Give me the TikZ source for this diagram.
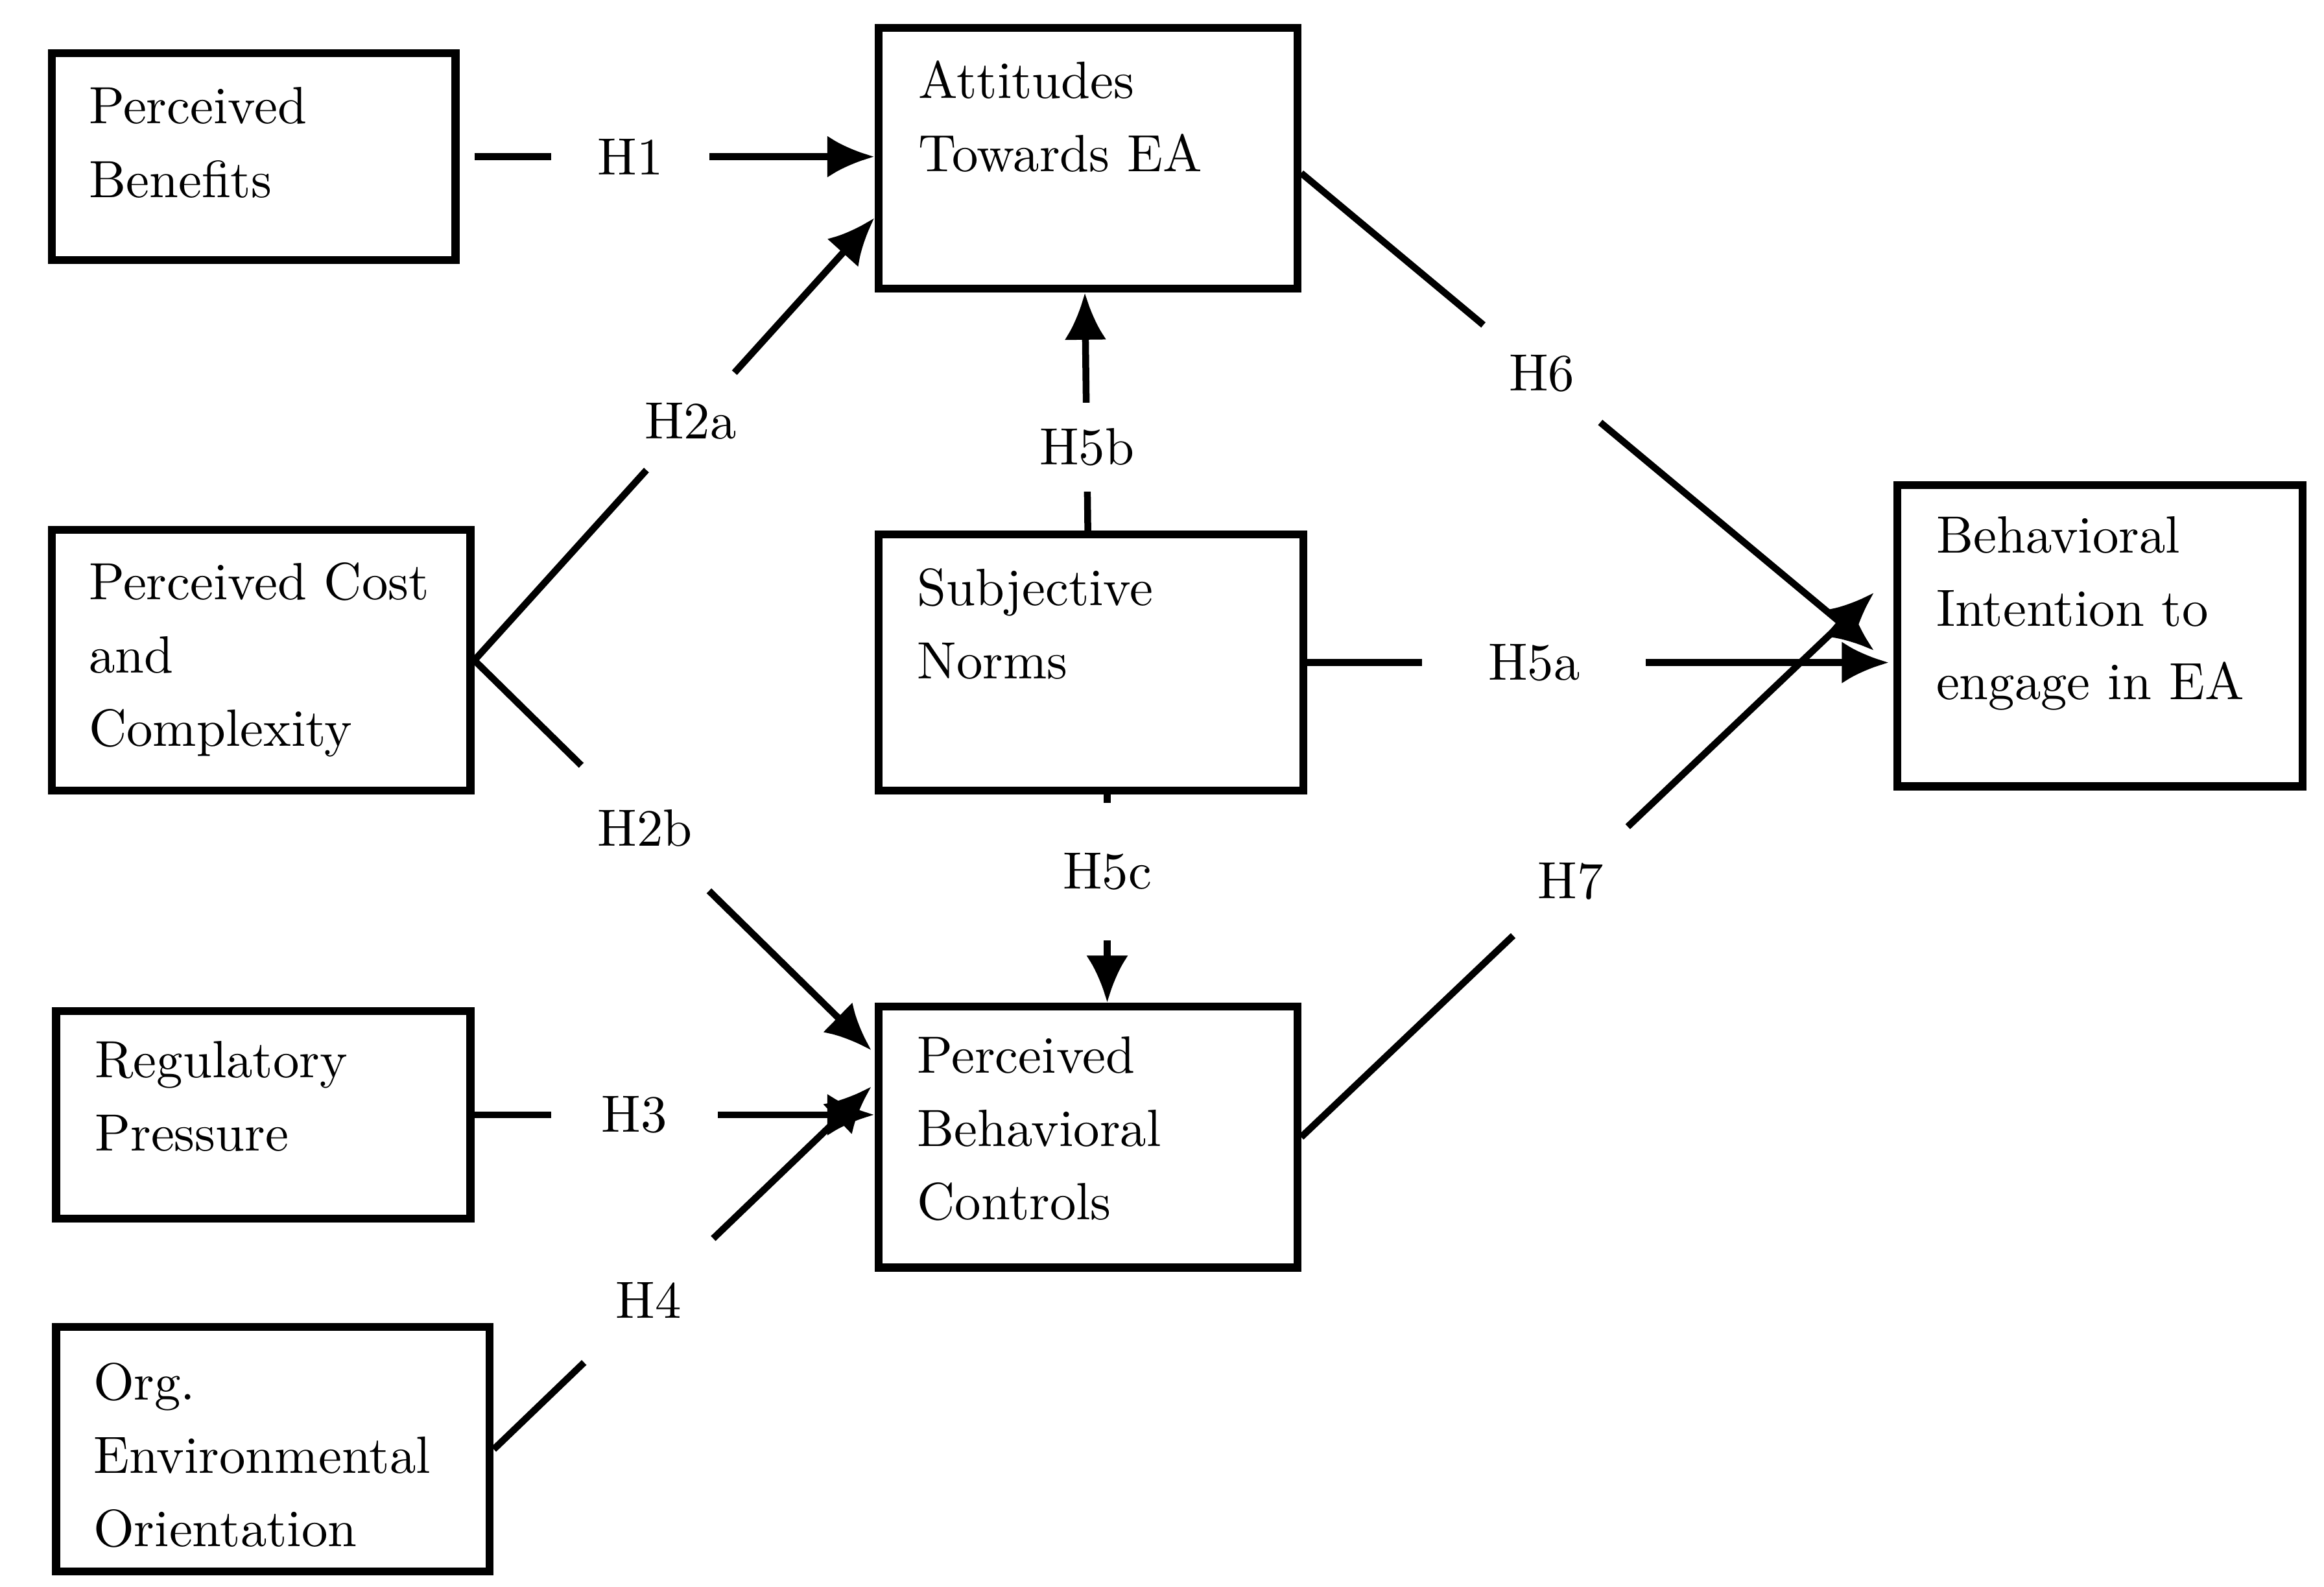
\documentclass[tikz,border=0pt]{standalone}
\usetikzlibrary{arrows.meta}
\begin{document}
\begin{tikzpicture}[x=0.01cm,y=-0.01cm,
  box/.style={draw,line width=1.5pt,anchor=north west,inner sep=0pt},
  txt/.style={anchor=north west,align=left,inner sep=0pt,font=\fontsize{10}{14}\selectfont},
  con/.style={line width=1.3pt},
  arr/.style={line width=1.3pt,-{Latex[length=9pt,width=8pt]}},
  lab/.style={fill=white,inner sep=0pt,font=\fontsize{10}{12}\selectfont}]
\useasboundingbox (0,0) rectangle (1560,1065);
\node[box,minimum width=271\pgflinewidth*0+2.71cm,minimum height=1.39cm] (pb) at (32,33) {};
\node[box,minimum width=2.81cm,minimum height=1.75cm] (att) at (587,16) {};
\node[box,minimum width=2.81cm,minimum height=1.75cm] (pcc) at (32,353) {};
\node[box,minimum width=2.85cm,minimum height=1.72cm] (sn) at (587,356) {};
\node[box,minimum width=2.72cm,minimum height=2.02cm] (bi) at (1271,323) {};
\node[box,minimum width=2.78cm,minimum height=1.39cm] (rp) at (35,676) {};
\node[box,minimum width=2.81cm,minimum height=1.75cm] (pbc) at (587,673) {};
\node[box,minimum width=2.91cm,minimum height=1.64cm] (org) at (35,888) {};
\node[txt] (tpb) at (59,58) {Perceived\\Benefits};
\node[txt] (tatt) at (616,40) {Attitudes\\Towards EA};
\node[txt] (tpcc) at (59,377) {Perceived Cost\\and\\Complexity};
\node[txt] (tsn) at (615,381) {Subjective\\Norms};
\node[txt] (tbi) at (1299,346) {Behavioral\\Intention to\\engage in EA};
\node[txt] (trp) at (63,698) {Regulatory\\Pressure};
\node[txt] (tpbc) at (615,695) {Perceived\\Behavioral\\Controls};
\node[txt] (torg) at (62,914) {Org.\\Environmental\\Orientation};
% connectors
\draw[arr] ([xshift=0.1cm]pb.east) -- (att.west |- pb.east) node[lab,pos=0.39,minimum width=1.06cm,minimum height=0.4cm] (h1) {H1};
\draw[arr] (pcc.east) -- ([yshift=-0.4cm]att.west) node[lab,pos=0.54,circle,minimum size=0.88cm] (h2a) {H2a};
\draw[arr] (pcc.east) -- ([yshift=-0.32cm,xshift=-0.02cm]pbc.north west) node[lab,pos=0.43,circle,minimum size=1.2cm] (h2b) {H2b};
\draw[arr] (rp.east) -- (pbc.west |- rp.east) node[lab,pos=0.4,minimum width=1.12cm,minimum height=0.4cm] (h3) {H3};
\draw[arr] (org.east) -- ([yshift=0.34cm,xshift=-0.02cm]pbc.west) node[lab,pos=0.41,circle,minimum size=1.2cm] (h4) {H4};
\draw[arr] ([xshift=-0.02cm]sn.north) -- ([xshift=-0.02cm]att.south) node[lab,pos=0.35,minimum width=0.6cm,minimum height=0.6cm] (h5b) {H5b};
\draw[arr] ([xshift=0.11cm]sn.south) -- ([xshift=0.13cm]pbc.north) node[lab,pos=0.37,minimum width=0.6cm,minimum height=0.92cm] (h5c) {H5c};
\draw[arr] (sn.east) -- ([xshift=-0.03cm]bi.west |- sn.east) node[lab,pos=0.39,minimum width=1.5cm,minimum height=0.4cm] (h5a) {H5a};
\draw[arr] ([yshift=-0.1cm]att.east) -- ([xshift=-0.13cm,yshift=-0.1cm]bi.west) node[lab,pos=0.42,circle,minimum size=1.02cm] (h6) {H6};
\draw[arr] (pbc.east) -- ([xshift=-0.13cm,yshift=0.29cm]bi.west) node[lab,pos=0.47,circle,minimum size=1.06cm] (h7) {H7};
\end{tikzpicture}
\end{document}
